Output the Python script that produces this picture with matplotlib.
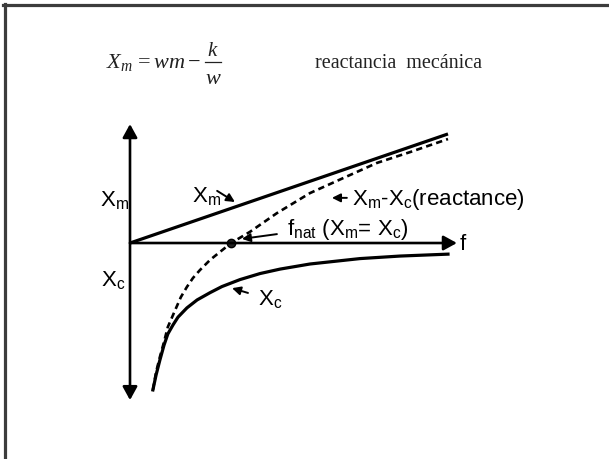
import matplotlib
matplotlib.use('Agg')
import matplotlib.pyplot as plt
from matplotlib.lines import Line2D

plt.rcParams['mathtext.fontset'] = 'custom'
plt.rcParams['mathtext.rm'] = 'Liberation Serif'
plt.rcParams['mathtext.it'] = 'Liberation Serif:italic'

# values (f on x, reactance on y)
f_xm = [0.0, 10.0]
xm = [0.0, 3.43]

f_xc = [0.72, 0.82, 0.94, 1.07, 1.19, 1.35, 1.51, 1.79, 2.11, 2.52, 2.89,
        3.46, 4.09, 4.72, 5.66, 7.23, 8.49, 10.0]
xc = [-4.62, -4.15, -3.68, -3.21, -2.86, -2.58, -2.33, -2.04, -1.79, -1.56,
      -1.37, -1.15, -0.96, -0.82, -0.66, -0.49, -0.41, -0.35]

f_react = [0.72, 0.82, 0.94, 1.07, 1.19, 1.42, 1.60, 1.79, 1.98, 2.20, 2.52,
           2.83, 3.18, 3.77, 4.62, 5.66, 6.70, 7.77, 8.81, 10.0]
react = [-4.62, -4.06, -3.58, -3.11, -2.64, -2.11, -1.70, -1.38, -1.10, -0.85,
         -0.53, -0.28, 0.0, 0.35, 0.94, 1.57, 2.04, 2.52, 2.86, 3.27]

f_nat = 3.18

W, H = 609, 459
fig = plt.figure(figsize=(W / 100, H / 100), dpi=100)
ax = fig.add_axes([0, 0, 1, 1])
ax.set_xlim(-4.088, 15.063)
ax.set_ylim(-6.792, 7.642)
ax.axis('off')

# slide frame (left and top only)
fig.add_artist(Line2D([4.5 / W, 4.5 / W], [0, 1 - 4 / H], color='#3c3c3c', lw=2.3))
fig.add_artist(Line2D([3 / W, 1], [1 - 5 / H, 1 - 5 / H], color='#3c3c3c', lw=2.3))

head = '-|>,head_length=0.4,head_width=0.22'
for tip in [(10.28, 0), (0, 3.74), (0, -4.94)]:
    ax.annotate('', xy=tip, xytext=(0, 0),
                arrowprops=dict(arrowstyle=head, mutation_scale=20, lw=1.9,
                                color='black', shrinkA=0, shrinkB=0))

ax.plot(f_xm, xm, color='black', lw=2.3, solid_capstyle='butt')
ax.plot(f_xc, xc, color='black', lw=2.3)
ax.plot(f_react, react, color='black', lw=1.9, dashes=(2.4, 1.6))
ax.plot([f_nat], [0], 'o', ms=6, color='#222222', mec='black')

sans = dict(family='Liberation Sans', fontsize=16, color='black')
small = dict(arrowstyle='-|>,head_length=0.5,head_width=0.25',
             mutation_scale=10, lw=1.4, color='black', shrinkA=0, shrinkB=0)

ax.text(-0.95, 1.16, r'$\mathregular{X_m}$', ha='left', va='baseline', **sans)
ax.text(-0.92, -1.38, r'$\mathregular{X_c}$', ha='left', va='baseline', **sans)
ax.text(10.38, -0.22, 'f', ha='left', va='baseline', **sans)

ax.text(1.95, 1.29, r'$\mathregular{X_m}$', ha='left', va='baseline', **sans)
ax.annotate('', xy=(3.30, 1.29), xytext=(2.74, 1.64), arrowprops=small)

ax.text(4.02, -1.95, r'$\mathregular{X_c}$', ha='left', va='baseline', **sans)
ax.annotate('', xy=(3.21, -1.42), xytext=(3.71, -1.57), arrowprops=small)

ax.text(6.98, 1.19, r'$\mathregular{X_m}$-$\mathregular{X_c}$(reactance)',
        ha='left', va='baseline', **sans)
ax.annotate('', xy=(6.35, 1.42), xytext=(6.82, 1.42), arrowprops=small)

ax.text(4.94, 0.25, r'$\mathregular{f_{nat}}$ ($\mathregular{X_m}$= $\mathregular{X_c}$)',
        ha='left', va='baseline', **sans)
ax.annotate('', xy=(3.52, 0.13), xytext=(4.62, 0.28), arrowprops=small)

# header formula, fraction built by hand
ink = '#222222'
fig.text(106 / W, 1 - 68 / H, r'$X_{m}\, = wm -$', ha='left',
         va='baseline', fontsize=16, color=ink)
fig.text(213 / W, 1 - 56 / H, r'$k$', ha='center', va='baseline',
         fontsize=15, color=ink)
fig.text(213 / W, 1 - 84 / H, r'$w$', ha='center', va='baseline',
         fontsize=16, color=ink)
fig.add_artist(Line2D([205 / W, 221 / W], [1 - 62 / H, 1 - 62 / H],
                      color=ink, lw=0.9))
fig.text(315 / W, 1 - 68 / H, 'reactancia  mecánica', ha='left', va='baseline',
         family='Liberation Serif', fontsize=14.5, color=ink)

fig.savefig('out.png', dpi=100)
